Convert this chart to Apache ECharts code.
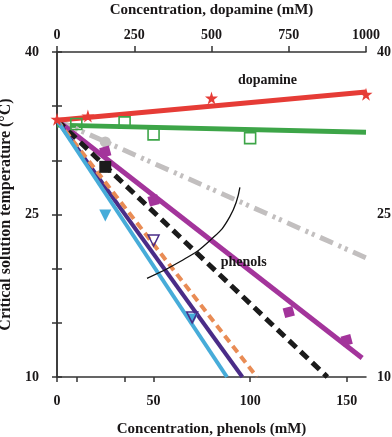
<!DOCTYPE html>
<html><head><meta charset="utf-8">
<script src="https://cdn.jsdelivr.net/npm/echarts@6/dist/echarts.min.js"></script>
<style>html,body{margin:0;padding:0;background:#fff}#c{width:392px;height:437px}</style>
</head><body><div id="c"></div>
<script>
// ---- data ----
const phenolTicks = [0, 10, 35, 50, 100, 150];
const phenolLabels = [0, 50, 100, 150];
const dopamineTicks = [0, 250, 500, 750, 1000];
const tempLabels = [10, 25, 40];

// dopamine series (top axis, mM)
const dopamineFit = [[0, 33.7], [1000, 36.3]];
const dopaminePts = [[0, 33.8], [100, 34.1], [500, 35.75], [1000, 36.1]];
// green series (bottom axis)
const greenFit = [[0, 33.25], [160, 32.6]];
const greenPts = [[10, 33.35], [35, 33.5], [50, 32.4], [100, 32.05]];
// gray dash-dot-dot
const grayFit = [[0, 33.7], [160, 21.0]];
const grayPts = [[25, 31.7]];
// magenta
const magentaFit = [[0, 33.7], [158, 11.75]];
const magentaPts = [[25, 30.8], [50, 26.3], [120, 16.0], [150, 13.4]];
// black dashed
const blackFit = [[0, 33.7], [140, 10]];
const blackPts = [[25, 29.4]];
// orange dashed
const orangeFit = [[0, 33.7], [103.5, 10]];
// dark purple
const purpleFit = [[0, 33.7], [96, 10]];
const purplePts = [[50, 22.6], [70, 15.5]];
// light blue
const blueFit = [[0, 33.7], [88, 10]];
const bluePts = [[25, 24.9], [70, 15.3]];
// annotation arc and labels (data coordinates)
const arcPts = [[46.6, 19.1], [65.2, 20.8], [79.2, 22.6], [89.5, 24.8], [94.7, 27.5]];
const dopamineText = [109, 37.4];
const phenolsText = [96.7, 20.6];

const FONT = 'Liberation Serif';
const TXT = '#1a1718';
const AX = '#333';
const star = 'path://M50,0 L61,35 L98,35 L68,57 L79,91 L50,70 L21,91 L32,57 L2,35 L39,35 Z';

function fit(data, color, width, type, xi, z) {
  return { type: 'line', data, xAxisIndex: xi || 0, yAxisIndex: 0, symbol: 'none', silent: true,
    lineStyle: { color, width, type: type || 'solid', cap: 'butt' }, z: z || 2, animation: false };
}
function pts(data, symbol, size, color, opts) {
  return Object.assign({ type: 'scatter', data, xAxisIndex: 0, yAxisIndex: 0, symbol, symbolSize: size,
    itemStyle: { color, opacity: 1 }, z: 5, animation: false }, opts || {});
}
const tickStyle = { fontFamily: FONT, fontWeight: 'bold', fontSize: 14, color: TXT };
const nameStyle = { fontFamily: FONT, fontWeight: 'bold', fontSize: 15, color: TXT };

const chart = echarts.init(document.getElementById('c'), null, { renderer: 'canvas' });
chart.setOption({
  animation: false,
  backgroundColor: '#fff',
  grid: { left: 57, right: 26, top: 52, bottom: 60, containLabel: false, outerBoundsMode: 'none' },
  xAxis: [
    { type: 'value', position: 'bottom', min: 0, max: 160,
      name: 'Concentration, phenols (mM)', nameLocation: 'middle', nameGap: 45,
      nameTextStyle: nameStyle,
      axisLine: { lineStyle: { color: AX, width: 1.5 } },
      axisTick: { show: true, inside: false, length: 5, customValues: phenolTicks, lineStyle: { color: AX, width: 1.5 } },
      axisLabel: { customValues: phenolLabels, margin: 17, ...tickStyle },
      splitLine: { show: false } },
    { type: 'value', position: 'top', min: 0, max: 1000, interval: 250,
      name: 'Concentration, dopamine (mM)', nameLocation: 'middle', nameGap: 34,
      nameTextStyle: nameStyle,
      axisLine: { lineStyle: { color: AX, width: 1.5 } },
      axisTick: { show: true, inside: false, length: 6, lineStyle: { color: AX, width: 1.5 } },
      axisLabel: { customValues: dopamineTicks, margin: 10, ...tickStyle, formatter: v => String(v) },
      splitLine: { show: false } }
  ],
  yAxis: [
    { type: 'value', position: 'left', min: 10, max: 40, interval: 5,
      name: 'Critical solution temperature (°C)', nameLocation: 'middle', nameGap: 36, nameRotate: 90,
      nameTextStyle: Object.assign({}, nameStyle, { fontSize: 16 }),
      axisLine: { show: true, lineStyle: { color: AX, width: 1.5 } },
      axisTick: { show: true, inside: false, length: 5, lineStyle: { color: AX, width: 1.5 } },
      axisLabel: { margin: 18, ...tickStyle, formatter: v => tempLabels.includes(v) ? String(v) : '' },
      splitLine: { show: false } },
    { type: 'value', position: 'right', min: 10, max: 40, interval: 5,
      axisLine: { show: true, lineStyle: { color: AX, width: 1.5 } },
      axisTick: { show: true, inside: false, length: 5, lineStyle: { color: AX, width: 1.5 } },
      axisLabel: { margin: 11, ...tickStyle, formatter: v => tempLabels.includes(v) ? String(v) : '' },
      splitLine: { show: false } }
  ],
  series: [
    fit(greenFit, '#3da548', 5, 'solid', 0, 2),
    pts(greenPts, 'rect', 11, 'rgba(255,255,255,0)', { itemStyle: { color: 'rgba(255,255,255,0)', borderColor: '#3da548', borderWidth: 1.6, opacity: 1 } }),
    fit(grayFit, '#c2bfbf', 5, [14, 6, 3, 4, 3, 6], 0, 2),
    pts(grayPts, 'circle', 11, '#c2bfbf'),
    fit(magentaFit, '#a3349b', 5, 'solid', 0, 3),
    pts(magentaPts, 'rect', 10, '#a3349b', { symbolRotate: 15 }),
    fit(blackFit, '#1b1b1b', 5, [10, 6], 0, 3),
    pts(blackPts, 'rect', 12, '#1b1b1b'),
    fit(purpleFit, '#4a2c88', 4, 'solid', 0, 3),
    fit(orangeFit, '#e98c55', 4, [8, 5], 0, 3),
    fit(blueFit, '#47acd9', 4, 'solid', 0, 4),
    pts(bluePts, 'triangle', 12, '#47acd9', { symbolRotate: 180 }),
    pts(purplePts, 'triangle', 11, 'rgba(255,255,255,0)', { symbolRotate: 180, itemStyle: { color: 'rgba(255,255,255,0)', borderColor: '#4a2c88', borderWidth: 1.5, opacity: 1 } }),
    fit(dopamineFit, '#e63c36', 5, 'solid', 1, 4),
    { type: 'scatter', data: dopaminePts, xAxisIndex: 1, yAxisIndex: 0, symbol: star, symbolSize: 13,
      itemStyle: { color: '#e63c36', opacity: 1 }, z: 6, animation: false },
    { type: 'line', data: arcPts, smooth: true, symbol: 'none', lineStyle: { color: '#111', width: 1.3 }, z: 6, animation: false }
  ]
});

function place(pt, text) {
  const p = chart.convertToPixel({ xAxisIndex: 0, yAxisIndex: 0 }, pt);
  return { type: 'text', x: p[0], y: p[1], z: 100,
    style: { text, fill: TXT, font: 'bold 14px "Liberation Serif"', align: 'center', verticalAlign: 'middle' } };
}
chart.setOption({ graphic: [place(dopamineText, 'dopamine'), place(phenolsText, 'phenols')] });
</script></body></html>
